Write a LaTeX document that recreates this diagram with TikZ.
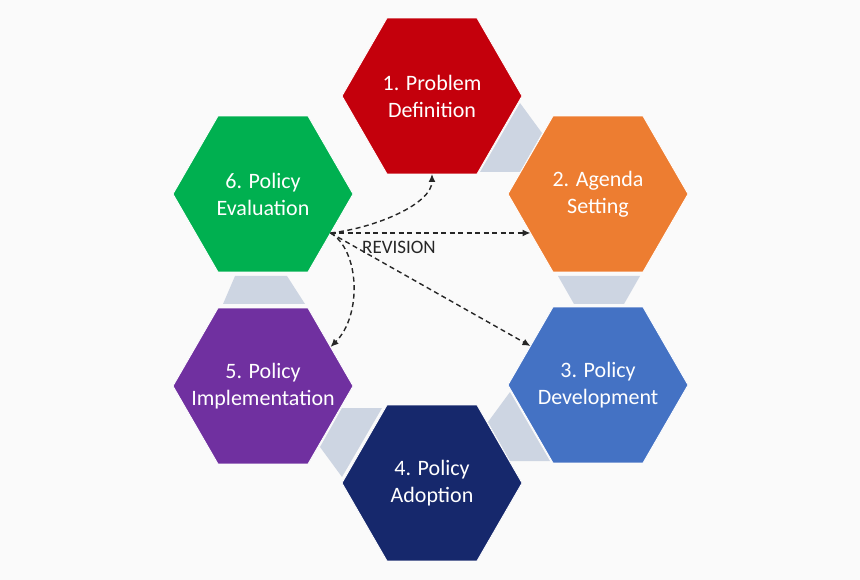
\documentclass[tikz,border=0pt]{standalone}
\usepackage{fontspec}
\setmainfont{Carlito}
\usetikzlibrary{shapes.geometric,arrows.meta}
\definecolor{bg}{RGB}{250,250,250}
\definecolor{conn}{RGB}{205,213,226}
\definecolor{hred}{RGB}{196,0,12}
\definecolor{horange}{RGB}{237,125,49}
\definecolor{hblue}{RGB}{68,114,196}
\definecolor{hnavy}{RGB}{22,40,108}
\definecolor{hpurple}{RGB}{112,48,160}
\definecolor{hgreen}{RGB}{0,176,80}
\tikzset{
  hexa/.style={regular polygon, regular polygon sides=6, minimum size=180pt,
    inner sep=0pt, outer sep=0pt, draw=white, line width=0.8pt},
  hextext/.style={text=white, align=center, inner sep=0pt,
    font=\fontsize{22}{27}\selectfont},
  revarrow/.style={draw=black!85, line width=1.4pt, dash pattern=on 5pt off 3.5pt,
    -{Latex[length=8pt,width=7pt]}},
  connband/.style={fill=conn}
}
\begin{document}
\begin{tikzpicture}[x=1pt,y=1pt,yscale=-1]
\useasboundingbox (0,0) rectangle (860,580);
\fill[bg] (0,0) rectangle (860,580);
% grey connecting bands
\fill[connband] (520,103) -- (542,133) -- (520,172) -- (480,172) -- cycle;
\fill[connband] (558,276) -- (640,276) -- (624,304) -- (574,304) -- cycle;
\fill[connband] (510,392) -- (488,422) -- (510,461) -- (550,461) -- cycle;
\fill[connband] (342,477) -- (320,447) -- (342,408) -- (382,408) -- cycle;
\fill[connband] (235,276) -- (287,276) -- (305,304) -- (223,304) -- cycle;
% hexagons
\node[hexa, fill=hred,    label={[hextext]center:{1. Problem\\Definition}}]     (h1) at (432,96)  {};
\node[hexa, fill=horange, label={[hextext]center:{2. Agenda\\Setting}}]         (h2) at (598,194) {};
\node[hexa, fill=hblue,   label={[hextext]center:{3. Policy\\Development}}]     (h3) at (598,385) {};
\node[hexa, fill=hnavy,   label={[hextext]center:{4. Policy\\Adoption}}]        (h4) at (432,483) {};
\node[hexa, fill=hpurple, label={[hextext]center:{5. Policy\\Implementation}}]  (h5) at (263,386) {};
\node[hexa, fill=hgreen,  label={[hextext]center:{6. Policy\\Evaluation}}]      (h6) at (263,194) {};
% revision arrows
\draw[revarrow] (h6.330) .. controls +(45,-5) and +(0,30) .. (h1.270);
\draw[revarrow] (h6.330) -- (h2.210);
\draw[revarrow] (h6.330) -- (h3.150);
\draw[revarrow] (h6.330) .. controls +(29,17) and +(32,-32) .. (h5.30);
\node[font=\fontsize{19}{21}\selectfont, text=black!85] (rev) at (399,247) {REVISION};
\end{tikzpicture}
\end{document}
